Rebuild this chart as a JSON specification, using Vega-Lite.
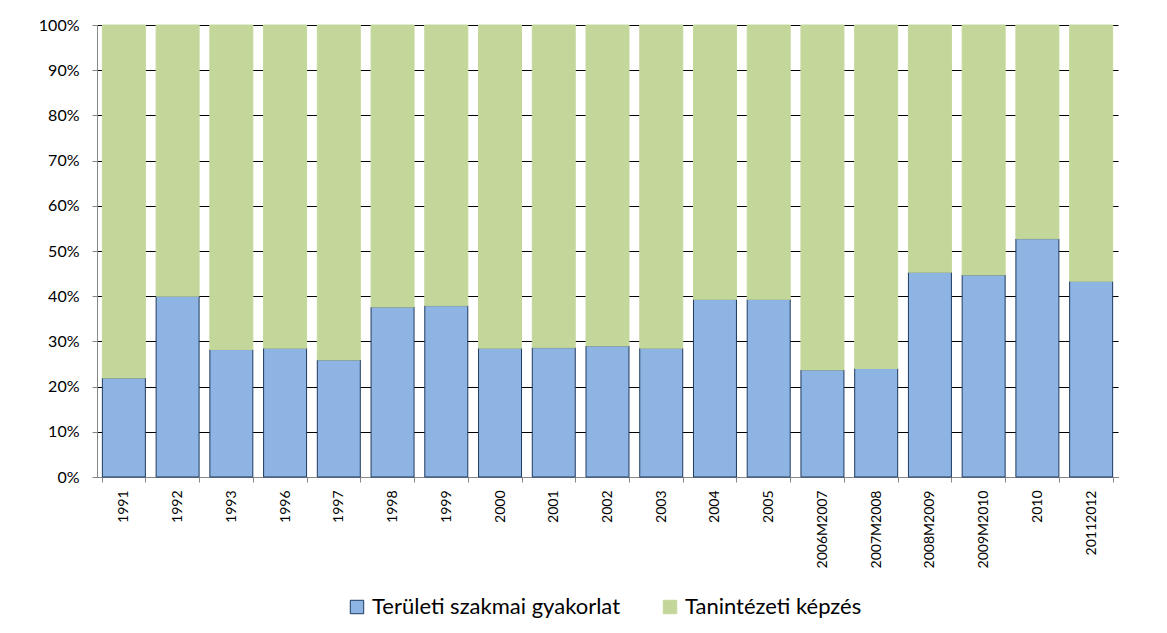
{
  "$schema": "https://vega.github.io/schema/vega-lite/v6.json",
  "width": 1021,
  "height": 452,
  "autosize": {"type": "none"},
  "padding": {"left": 97, "top": 25, "right": 49, "bottom": 156},
  "background": "white",
  "config": {
    "view": {"stroke": null},
    "font": "Lato",
    "axis": {"labelFont": "Lato", "labelColor": "#000000"},
    "legend": {"labelFont": "Lato"}
  },
  "data": {
    "values": [
      {"ev": "1991", "sor": "Területi szakmai gyakorlat", "v": 21.9},
      {"ev": "1991", "sor": "Tanintézeti képzés", "v": 78.1},
      {"ev": "1992", "sor": "Területi szakmai gyakorlat", "v": 40.0},
      {"ev": "1992", "sor": "Tanintézeti képzés", "v": 60.0},
      {"ev": "1993", "sor": "Területi szakmai gyakorlat", "v": 28.2},
      {"ev": "1993", "sor": "Tanintézeti képzés", "v": 71.8},
      {"ev": "1996", "sor": "Területi szakmai gyakorlat", "v": 28.5},
      {"ev": "1996", "sor": "Tanintézeti képzés", "v": 71.5},
      {"ev": "1997", "sor": "Területi szakmai gyakorlat", "v": 25.9},
      {"ev": "1997", "sor": "Tanintézeti képzés", "v": 74.1},
      {"ev": "1998", "sor": "Területi szakmai gyakorlat", "v": 37.6},
      {"ev": "1998", "sor": "Tanintézeti képzés", "v": 62.4},
      {"ev": "1999", "sor": "Területi szakmai gyakorlat", "v": 37.9},
      {"ev": "1999", "sor": "Tanintézeti képzés", "v": 62.1},
      {"ev": "2000", "sor": "Területi szakmai gyakorlat", "v": 28.5},
      {"ev": "2000", "sor": "Tanintézeti képzés", "v": 71.5},
      {"ev": "2001", "sor": "Területi szakmai gyakorlat", "v": 28.6},
      {"ev": "2001", "sor": "Tanintézeti képzés", "v": 71.4},
      {"ev": "2002", "sor": "Területi szakmai gyakorlat", "v": 29.0},
      {"ev": "2002", "sor": "Tanintézeti képzés", "v": 71.0},
      {"ev": "2003", "sor": "Területi szakmai gyakorlat", "v": 28.5},
      {"ev": "2003", "sor": "Tanintézeti képzés", "v": 71.5},
      {"ev": "2004", "sor": "Területi szakmai gyakorlat", "v": 39.3},
      {"ev": "2004", "sor": "Tanintézeti képzés", "v": 60.7},
      {"ev": "2005", "sor": "Területi szakmai gyakorlat", "v": 39.3},
      {"ev": "2005", "sor": "Tanintézeti képzés", "v": 60.7},
      {"ev": "2006M2007", "sor": "Területi szakmai gyakorlat", "v": 23.7},
      {"ev": "2006M2007", "sor": "Tanintézeti képzés", "v": 76.3},
      {"ev": "2007M2008", "sor": "Területi szakmai gyakorlat", "v": 24.0},
      {"ev": "2007M2008", "sor": "Tanintézeti képzés", "v": 76.0},
      {"ev": "2008M2009", "sor": "Területi szakmai gyakorlat", "v": 45.3},
      {"ev": "2008M2009", "sor": "Tanintézeti képzés", "v": 54.7},
      {"ev": "2009M2010", "sor": "Területi szakmai gyakorlat", "v": 44.7},
      {"ev": "2009M2010", "sor": "Tanintézeti képzés", "v": 55.3},
      {"ev": "2010", "sor": "Területi szakmai gyakorlat", "v": 52.7},
      {"ev": "2010", "sor": "Tanintézeti képzés", "v": 47.3},
      {"ev": "20112012", "sor": "Területi szakmai gyakorlat", "v": 43.3},
      {"ev": "20112012", "sor": "Tanintézeti képzés", "v": 56.7}
    ]
  },
  "mark": {"type": "bar", "strokeWidth": 1},
  "encoding": {
    "x": {
      "field": "ev",
      "type": "nominal",
      "sort": null,
      "title": null,
      "scale": {"paddingInner": 0.2, "paddingOuter": 0.1},
      "axis": {
        "labelAngle": -90,
        "labelFontSize": 14,
        "labelPadding": 8,
        "tickBand": "extent",
        "tickSize": 5,
        "tickColor": "#868686",
        "domainColor": "#868686",
        "grid": false
      }
    },
    "y": {
      "field": "v",
      "type": "quantitative",
      "stack": "normalize",
      "title": null,
      "scale": {"domain": [0, 1]},
      "axis": {
        "format": ".0%",
        "values": [0, 0.1, 0.2, 0.3, 0.4, 0.5, 0.6, 0.7, 0.8, 0.9, 1],
        "labelFontSize": 16,
        "labelPadding": 13,
        "tickSize": 5,
        "tickColor": "#868686",
        "domainColor": "#868686",
        "grid": true,
        "gridColor": "#000000",
        "gridOpacity": 1
      }
    },
    "fill": {
      "field": "sor",
      "type": "nominal",
      "sort": ["Területi szakmai gyakorlat", "Tanintézeti képzés"],
      "scale": {"domain": ["Területi szakmai gyakorlat", "Tanintézeti képzés"], "range": ["#8EB4E3", "#C4D79B"]},
      "legend": {
        "title": null,
        "orient": "none",
        "direction": "horizontal",
        "legendX": 249,
        "legendY": 571,
        "symbolType": "square",
        "symbolSize": 180,
        "symbolStrokeWidth": 1,
        "labelFontSize": 22,
        "labelLimit": 0,
        "labelColor": "#000000",
        "columnPadding": 38,
        "symbolOffset": 0
      }
    },
    "stroke": {
      "field": "sor",
      "type": "nominal",
      "sort": ["Területi szakmai gyakorlat", "Tanintézeti képzés"],
      "scale": {"domain": ["Területi szakmai gyakorlat", "Tanintézeti képzés"], "range": ["#1F3A60", "#C4D79B"]}
    }
  }
}
